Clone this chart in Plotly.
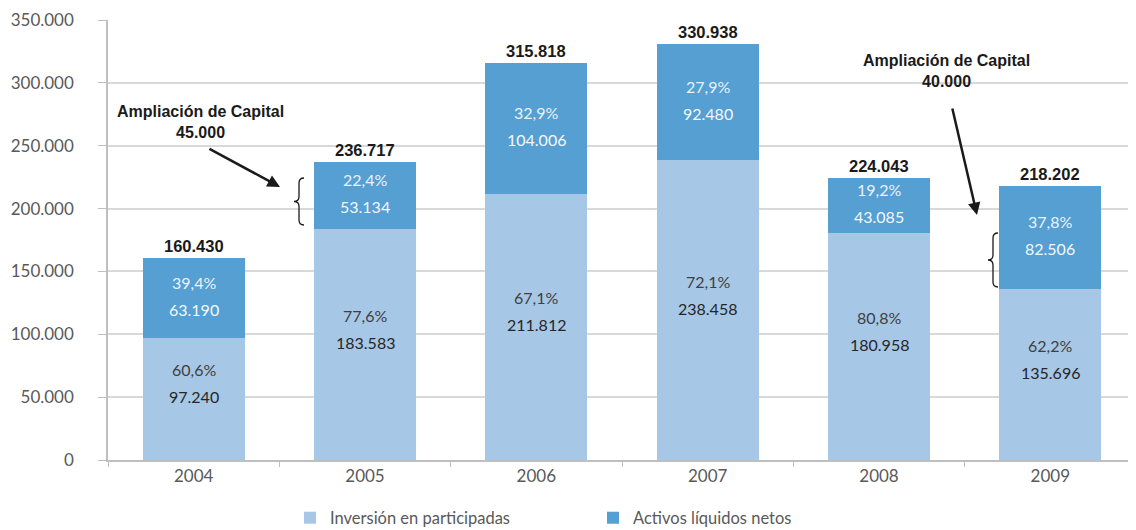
import plotly.graph_objects as go

# data
years = ["2004", "2005", "2006", "2007", "2008", "2009"]
inversion = [97240, 183583, 211812, 238458, 180958, 135696]
activos = [63190, 53134, 104006, 92480, 43085, 82506]
pct_inversion = ["60,6%", "77,6%", "67,1%", "72,1%", "80,8%", "62,2%"]
pct_activos = ["39,4%", "22,4%", "32,9%", "27,9%", "19,2%", "37,8%"]
totals = [160430, 236717, 315818, 330938, 224043, 218202]
y_ticks = [0, 50000, 100000, 150000, 200000, 250000, 300000, 350000]

LIGHT = "#A7C7E6"
DARK = "#559FD3"
OFF = 8  # default body margin of the page
W, H = 1136 - OFF, 530 - OFF
ML, MR, MT, MB = 108 - OFF, 0, 20 - OFF, 70
FONT = "Lato, Open Sans, sans-serif"
BOLD = "Liberation Sans, Arial, sans-serif"


def es(v):
    return f"{v:,}".replace(",", ".")


def px2paper(px, py):
    # pixel in the window -> paper coords of the plot area
    fx, fy = px - OFF, py - OFF
    return ((fx - ML) / (W - ML - MR), (H - MB - fy) / (H - MT - MB))


def brace_path(x0, x1, yt, yb):
    # left curly brace, tip at x0, in window pixels -> paper path
    xm = (x0 + x1) / 2
    ym = (yt + yb) / 2
    d = 5
    pts = [
        ("M", [(x1, yt)]),
        ("Q", [(xm, yt), (xm, yt + d)]),
        ("L", [(xm, ym - d)]),
        ("Q", [(xm, ym), (x0, ym)]),
        ("Q", [(xm, ym), (xm, ym + d)]),
        ("L", [(xm, yb - d)]),
        ("Q", [(xm, yb), (x1, yb)]),
    ]
    out = ""
    for cmd, ps in pts:
        out += cmd + " ".join("%.5f,%.5f" % px2paper(a, b) for a, b in ps) + " "
    return out.strip()


fig = go.Figure()
fig.add_trace(go.Bar(x=years, y=inversion, name="Inversión en participadas",
                     marker_color=LIGHT, marker_line_width=0))
fig.add_trace(go.Bar(x=years, y=activos, name="Activos líquidos netos",
                     marker_color=DARK, marker_line_width=0))

annotations = []
inner_font = dict(family=FONT, size=16)
for i, yr in enumerate(years):
    # light segment labels (x as category index)
    mid = inversion[i] / 2
    annotations.append(dict(x=i, y=mid, text=pct_inversion[i], showarrow=False,
                            yshift=29, font=dict(inner_font, color="#404040")))
    annotations.append(dict(x=i, y=mid, text=es(inversion[i]), showarrow=False,
                            yshift=2, font=dict(inner_font, color="#262626")))
    # dark segment labels
    mid = inversion[i] + activos[i] / 2
    annotations.append(dict(x=i, y=mid, text=pct_activos[i], showarrow=False,
                            yshift=16, font=dict(inner_font, color="#EAF2FA")))
    annotations.append(dict(x=i, y=mid, text=es(activos[i]), showarrow=False,
                            yshift=-11, font=dict(inner_font, color="#F4F8FC")))
    # totals
    annotations.append(dict(x=i, y=totals[i], text="<b>" + es(totals[i]) + "</b>",
                            showarrow=False, yanchor="bottom", yshift=1,
                            font=dict(family=BOLD, size=16.5, color="#1a1a1a")))

# capital increase notes
note_font = dict(family=BOLD, size=16, color="#1a1a1a")
for (tx, ty), txt in [((200, 122), "Ampliación de Capital<br>45.000"),
                      ((946, 71), "Ampliación de Capital<br>40.000")]:
    px_, py_ = px2paper(tx, ty)
    annotations.append(dict(xref="paper", yref="paper", x=px_, y=py_,
                            xanchor="center", yanchor="middle",
                            text="<b>" + txt + "</b>", showarrow=False, font=note_font))

for tail, head in [((208, 148), (280, 187)), ((952, 107), (977, 215))]:
    hx, hy = px2paper(*head)
    annotations.append(dict(xref="paper", yref="paper", x=hx, y=hy, text="",
                            showarrow=True, arrowhead=2, arrowsize=1, arrowwidth=2.5,
                            arrowcolor="#1a1a1a", ax=tail[0] - head[0], ay=tail[1] - head[1],
                            standoff=0))

shapes = []
for x0, x1, yt, yb in [(294, 304, 178, 225), (988, 998, 233, 287)]:
    shapes.append(dict(type="path", xref="paper", yref="paper",
                       path=brace_path(x0, x1, yt, yb),
                       line=dict(color="#1a1a1a", width=1.3)))

lx, ly = px2paper(290, 518)
fig.update_layout(
    barmode="stack",
    bargap=0.405,
    width=W, height=H,
    margin=dict(l=ML, r=MR, t=MT, b=MB, autoexpand=False),
    plot_bgcolor="white", paper_bgcolor="white",
    separators=",.",
    font=dict(family=FONT, size=16, color="#595959"),
    annotations=annotations,
    shapes=shapes,
    legend=dict(orientation="h", x=lx, xanchor="left", y=ly, yanchor="middle",
                entrywidth=258, entrywidthmode="pixels", itemwidth=30,
                font=dict(family=FONT, size=16.5, color="#595959"), traceorder="normal"),
)
fig.update_xaxes(type="category", range=[-0.5, 5.5], showgrid=False, showline=True,
                 linecolor="#BFBFBF", linewidth=1.5, ticks="outside", tickson="boundaries",
                 ticklen=5, tickcolor="#BFBFBF", tickangle=0, automargin=False,
                 tickfont=dict(family=FONT, size=17, color="#595959"))
fig.update_yaxes(range=[0, 350000], tickvals=y_ticks, tickformat=",.0f",
                 showgrid=True, gridcolor="#D9D9D9", gridwidth=1.5,
                 showline=True, linecolor="#BFBFBF", linewidth=1.5,
                 ticks="outside", ticklen=8, tickcolor="#BFBFBF",
                 ticklabelstandoff=21, zeroline=False, automargin=False,
                 tickfont=dict(family=FONT, size=17, color="#595959"))

fig.write_html("out.html")
